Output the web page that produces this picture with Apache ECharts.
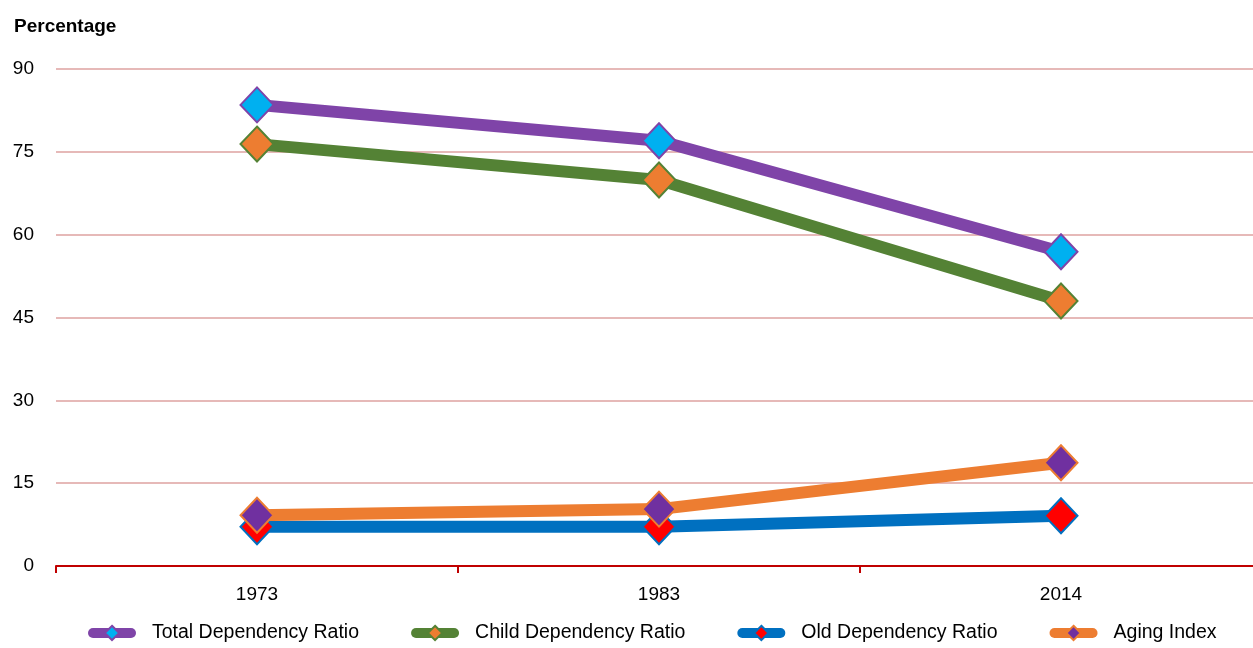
<!DOCTYPE html>
<html><head><meta charset="utf-8">
<script src="https://cdn.jsdelivr.net/npm/echarts@6/dist/echarts.min.js"></script>
<style>html,body{margin:0;padding:0;background:#fff;overflow:hidden}#c{width:1262px;height:648px}</style>
</head><body><div id="c"></div>
<script>
var years = ['1973', '1983', '2014'];
var totalDep = [83.5, 77.0, 56.9];
var childDep = [76.4, 69.9, 48.0];
var oldDep = [7.1, 7.1, 9.1];
var agingIdx = [9.2, 10.3, 18.7];
var yTicks = [0, 15, 30, 45, 60, 75, 90];

var FONT = "'Liberation Sans', Arial, sans-serif";
function mk(name, data, lineColor, fill) {
  return {
    name: name, type: 'line', data: data,
    symbol: 'diamond', symbolSize: [33, 35],
    lineStyle: {color: lineColor, width: 12, cap: 'round'},
    itemStyle: {color: fill, borderColor: lineColor, borderWidth: 2},
    z: 2
  };
}
var chart = echarts.init(document.getElementById('c'));
chart.setOption({
  animation: false,
  textStyle: {fontFamily: FONT},
  title: {text: 'Percentage', left: 9, top: 12, textStyle: {fontFamily: FONT, fontSize: 19, fontWeight: 'bold', color: '#000'}},
  grid: {left: 56, top: 69, right: 0, bottom: 82, containLabel: false},
  xAxis: {
    type: 'category', data: years, boundaryGap: true,
    axisLine: {lineStyle: {color: '#c00000', width: 2}},
    axisTick: {show: true, alignWithLabel: false, length: 7, lineStyle: {color: '#c00000', width: 2}},
    axisLabel: {color: '#000', fontSize: 19, fontFamily: FONT, margin: 19}
  },
  yAxis: {
    type: 'value', min: 0, max: 90, interval: 15,
    axisLine: {show: false}, axisTick: {show: false},
    splitLine: {lineStyle: {color: '#e6b9b8', width: 2}},
    axisLabel: {color: '#000', fontSize: 19, fontFamily: FONT, margin: 22,
      formatter: function (v) { return yTicks.indexOf(v) >= 0 ? String(v) : ''; }}
  },
  legend: {
    bottom: 0, left: 83, itemGap: 52, itemWidth: 38, itemHeight: 18,
    lineStyle: {width: 10, cap: 'round'},
    textStyle: {fontSize: 19.5, fontFamily: FONT, color: '#000', padding: [0, 0, 0, 16]},
    data: ['Total Dependency Ratio', 'Child Dependency Ratio', 'Old Dependency Ratio', 'Aging Index']
  },
  series: [
    mk('Total Dependency Ratio', totalDep, '#7f44a8', '#00b0f0'),
    mk('Child Dependency Ratio', childDep, '#548235', '#ed7d31'),
    mk('Old Dependency Ratio', oldDep, '#0070c0', '#ff0000'),
    mk('Aging Index', agingIdx, '#ed7d31', '#7030a0')
  ]
});
</script></body></html>
